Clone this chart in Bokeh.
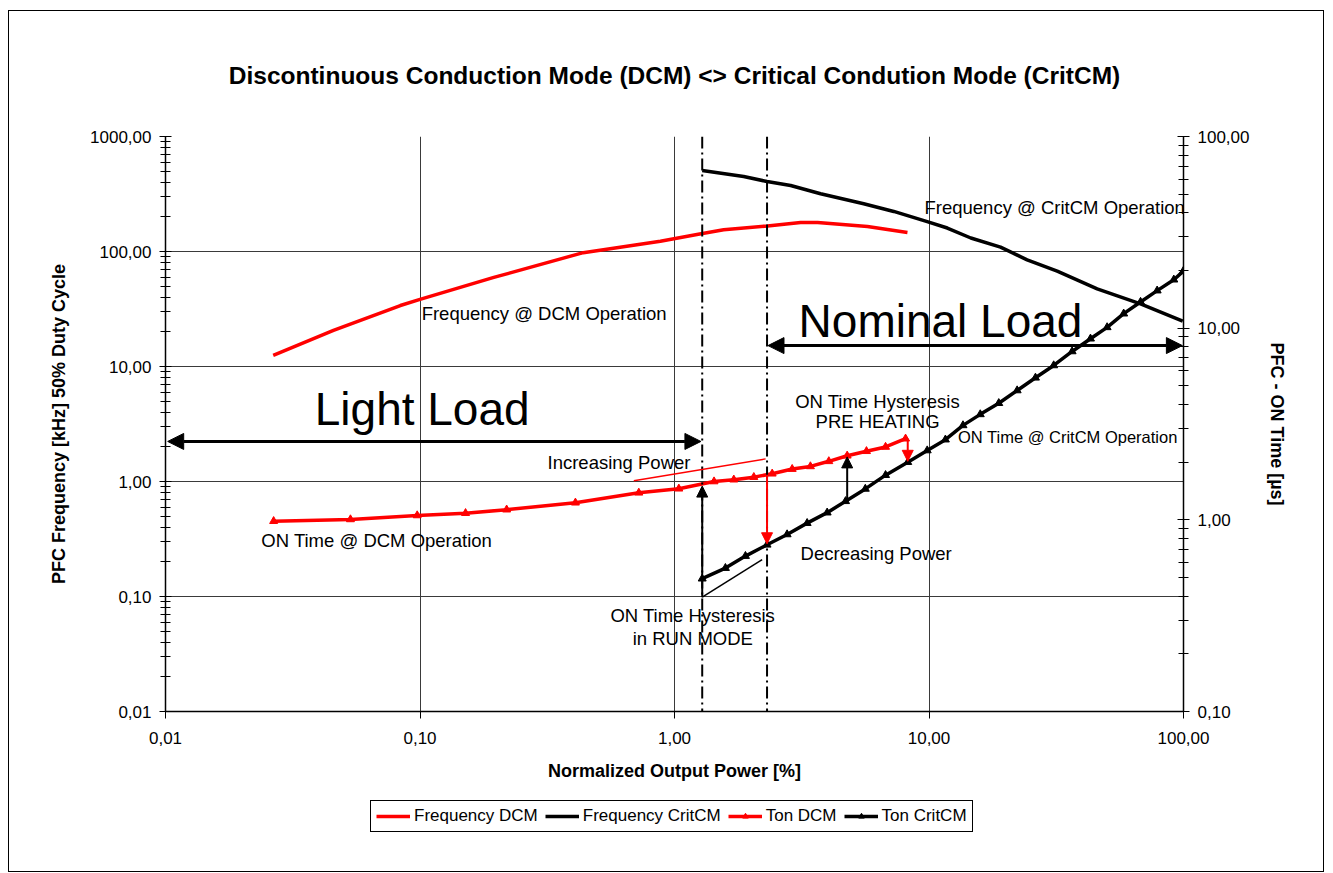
from bokeh.plotting import figure
from bokeh.layouts import column
from bokeh.models import (Range1d, LogScale, LogAxis, FixedTicker, CustomJSTickFormatter,
                          Arrow, NormalHead, Label, Span, Legend, LegendItem)
from bokeh.embed import file_html
from bokeh.resources import INLINE

# ---------------- data ----------------
power_freq_dcm = [0.0265, 0.0457, 0.0837, 0.1, 0.195, 0.438, 0.88, 1.24, 1.56, 2.32, 3.13, 3.65, 5.73, 8.23]
freq_dcm = [12.5, 20.6, 33.9, 38.3, 59.5, 97.7, 123, 141, 154.5, 167, 179, 179, 165, 146]

power_freq_crit = [1.285, 1.87, 2.31, 2.86, 3.75, 5.54, 7.27, 9.84, 11.8, 14.6, 19.1, 24.3, 31.9, 45.8, 67.8, 99.3]
freq_crit = [506, 449, 406, 375, 318, 260, 223, 182, 160, 131, 109, 84.7, 67.5, 47.4, 35.1, 24.8]

power_ton_dcm = [0.0266, 0.0533, 0.0975, 0.151, 0.219, 0.408, 0.724, 1.04, 1.43, 1.71, 2.05, 2.42,
                 2.90, 3.42, 4.04, 4.77, 5.68, 6.75, 8.09]
ton_dcm = [0.984, 1.005, 1.054, 1.083, 1.13, 1.228, 1.384, 1.453, 1.585, 1.62, 1.67, 1.74,
           1.84, 1.90, 2.02, 2.16, 2.28, 2.40, 2.65]

power_ton_crit = [1.285, 1.585, 1.90, 2.31, 2.77, 3.32, 3.98, 4.70, 5.62, 6.75, 8.25, 9.84, 11.6, 13.6,
                  15.9, 18.8, 22.2, 26.2, 30.9, 36.5, 43.1, 50.1, 58.2, 67.8, 78.8, 91.6, 99.7]
ton_crit = [0.493, 0.56, 0.647, 0.741, 0.839, 0.961, 1.09, 1.25, 1.45, 1.71, 2.0, 2.30, 2.62, 3.11,
            3.55, 4.06, 4.73, 5.51, 6.39, 7.56, 8.81, 10.1, 11.9, 13.7, 15.7, 17.9, 19.8]

hysteresis_bounds = [1.285, 2.31]          # dash-dot limits (power %)
left_ticks = [0.01, 0.1, 1, 10, 100, 1000]
right_ticks = [0.1, 1, 10, 100]
x_ticks = [0.01, 0.1, 1, 10, 100]

series_names = ["Frequency DCM", "Frequency CritCM", "Ton DCM", "Ton CritCM"]

FONT = "Liberation Sans"
RED = "#ff0000"


def minors(majors):
    out = []
    for m in majors[:-1]:
        out += [m * k for k in range(2, 10)]
    return out


p = figure(x_axis_type="log", y_axis_type="log",
           x_range=Range1d(0.01, 100), y_range=Range1d(0.01, 1000),
           frame_width=1018, frame_height=575,
           min_border_left=156, min_border_right=140, min_border_top=125, min_border_bottom=78,
           output_backend="svg", toolbar_location=None,
           title="Discontinuous Conduction Mode (DCM) <> Critical Condution Mode (CritCM)")
p.outline_line_color = None
p.background_fill_color = "white"
p.border_fill_color = "white"

p.title.align = "center"
p.title.text_font = FONT
p.title.text_font_size = "24.5px"
p.title.text_font_style = "bold"
p.title.text_color = "black"
p.title.standoff = 96

p.extra_y_ranges = {"ton": Range1d(0.1, 100)}
p.extra_y_scales = {"ton": LogScale()}

fmt = CustomJSTickFormatter(code="return tick.toFixed(2).replace('.', ',');")

# x axis
xa = p.xaxis[0]
xa.ticker = FixedTicker(ticks=x_ticks, minor_ticks=[])
xa.formatter = fmt
xa.axis_label = "Normalized Output Power [%]"

# left axis
ya = p.yaxis[0]
ya.ticker = FixedTicker(ticks=left_ticks, minor_ticks=minors(left_ticks))
ya.formatter = fmt
ya.axis_label = "PFC Frequency [kHz] 50% Duty Cycle"

# right axis
ra = LogAxis(y_range_name="ton", axis_label="PFC - ON Time [µs]")
ra.ticker = FixedTicker(ticks=right_ticks, minor_ticks=minors(right_ticks))
ra.formatter = fmt
p.add_layout(ra, "right")

for ax in [xa, ya, ra]:
    ax.axis_line_color = "black"
    ax.axis_line_width = 1.5
    ax.major_tick_line_color = "black"
    ax.minor_tick_line_color = "black"
    ax.major_label_text_font = FONT
    ax.major_label_text_font_size = "17px"
    ax.major_label_text_color = "black"
    ax.axis_label_text_font = FONT
    ax.axis_label_text_font_size = "18px"
    ax.axis_label_text_font_style = "bold"
    ax.axis_label_text_color = "black"
for ax in [ya, ra]:
    ax.major_tick_in = 6
    ax.major_tick_out = 6
    ax.minor_tick_in = 5
    ax.minor_tick_out = 5
    ax.major_label_standoff = 8
ya.axis_label_standoff = 18
ra.axis_label_standoff = 15
xa.major_tick_in = 0
xa.major_tick_out = 7
xa.minor_tick_line_color = None
xa.major_label_standoff = 13
xa.axis_label_standoff = 14

p.xgrid.ticker = FixedTicker(ticks=x_ticks)
p.ygrid.ticker = FixedTicker(ticks=left_ticks)
for g in [p.xgrid[0], p.ygrid[0]]:
    g.grid_line_color = "#3a3a3a"
    g.grid_line_width = 1

# ---------------- hysteresis dash-dot limits ----------------
for b in hysteresis_bounds:
    p.add_layout(Span(location=b, dimension="height", line_color="black",
                      line_width=2, line_dash="12 4 2 4"))


# ---------------- series ----------------
def draw(fig):
    r1 = fig.line(power_freq_dcm, freq_dcm, line_color=RED, line_width=3.5)
    r2 = fig.line(power_freq_crit, freq_crit, line_color="black", line_width=3.5)
    r3 = fig.line(power_ton_dcm, ton_dcm, line_color=RED, line_width=3.5, y_range_name="ton")
    r3m = fig.scatter(power_ton_dcm, ton_dcm, marker="triangle", size=8, color=RED, y_range_name="ton")
    r4 = fig.line(power_ton_crit, ton_crit, line_color="black", line_width=3.5, y_range_name="ton")
    r4m = fig.scatter(power_ton_crit, ton_crit, marker="triangle", size=8, color="black", y_range_name="ton")
    return [[r1], [r2], [r3, r3m], [r4, r4m]]


draw(p)


# ---------------- annotations ----------------
def head(c, s=11):
    return NormalHead(size=s, fill_color=c, line_color=c)


# Light load / nominal load arrows
p.add_layout(Arrow(start=head("black", 16), end=head("black", 16), x_start=0.0102, x_end=1.27,
                   y_start=2.23, y_end=2.23, line_width=3, line_color="black"))
p.add_layout(Arrow(start=head("black", 16), end=head("black", 16), x_start=2.33, x_end=99,
                   y_start=15.2, y_end=15.2, line_width=3, line_color="black"))

# hysteresis arrows (on-time axis)
p.add_layout(Arrow(end=head("black"), x_start=1.285, x_end=1.285, y_start=0.395, y_end=1.50,
                   line_width=2, line_color="black", y_range_name="ton"))
p.add_layout(Arrow(end=None, x_start=1.285, x_end=2.21, y_start=0.395, y_end=0.62,
                   line_width=1.5, line_color="black", y_range_name="ton"))
p.add_layout(Arrow(end=head(RED), x_start=2.31, x_end=2.31, y_start=1.72, y_end=0.75,
                   line_width=2, line_color=RED, y_range_name="ton"))
p.add_layout(Arrow(end=head("black"), x_start=4.77, x_end=4.77, y_start=1.27, y_end=2.13,
                   line_width=2, line_color="black", y_range_name="ton"))
p.add_layout(Arrow(end=head(RED), x_start=8.25, x_end=8.25, y_start=2.65, y_end=2.02,
                   line_width=2, line_color=RED, y_range_name="ton"))
p.add_layout(Arrow(end=None, x_start=0.692, x_end=2.28, y_start=1.60, y_end=2.08,
                   line_width=1.5, line_color=RED, y_range_name="ton"))


def label(x, y, text, size="18.5px", align="left"):
    p.add_layout(Label(x=x, y=y, text=text, text_font=FONT, text_font_size=size,
                       text_align=align, text_baseline="middle", text_color="black"))


label(0.1015, 28.9, "Frequency @ DCM Operation")
label(9.6, 241, "Frequency @ CritCM Operation")
label(0.102, 4.31, "Light Load", size="46px", align="center")
label(11.1, 25.1, "Nominal Load", size="46px", align="center")
label(6.28, 4.97, "ON Time Hysteresis", align="center")
label(6.28, 3.33, "PRE HEATING", align="center")
label(13.0, 2.42, "ON Time @ CritCM Operation", size="16.5px")
label(0.317, 1.46, "Increasing Power")
label(0.0238, 0.307, "ON Time @ DCM Operation")
label(3.13, 0.237, "Decreasing Power")
label(1.18, 0.0684, "ON Time Hysteresis", align="center")
label(1.18, 0.0432, "in RUN MODE", align="center")

# ---------------- legend strip (same series, view outside the data) ----------------
pl = figure(frame_width=1314, frame_height=82, min_border=0,
            x_range=Range1d(1e4, 2e4), y_range=Range1d(1e4, 2e4),
            x_axis_location=None, y_axis_location=None,
            output_backend="svg", toolbar_location=None)
pl.extra_y_ranges = {"ton": Range1d(1e4, 2e4)}
pl.grid.visible = False
pl.outline_line_color = None
pl.background_fill_color = "white"
pl.border_fill_color = "white"
groups = draw(pl)

legend = Legend(items=[LegendItem(label=n, renderers=g) for n, g in zip(series_names, groups)],
                orientation="horizontal", location=(361, 39),
                label_text_font=FONT, label_text_font_size="17px", label_text_color="black",
                glyph_width=34, glyph_height=14, spacing=7, padding=5,
                label_standoff=4, margin=0,
                border_line_color="black", border_line_width=1, border_line_alpha=1.0,
                background_fill_color="white", background_fill_alpha=1.0)
pl.add_layout(legend, "center")

layout = column(p, pl, spacing=0,
                styles={"border": "1px solid black", "margin-left": "8px", "margin-top": "10px"})

open("out.html", "w").write(file_html(layout, INLINE))
